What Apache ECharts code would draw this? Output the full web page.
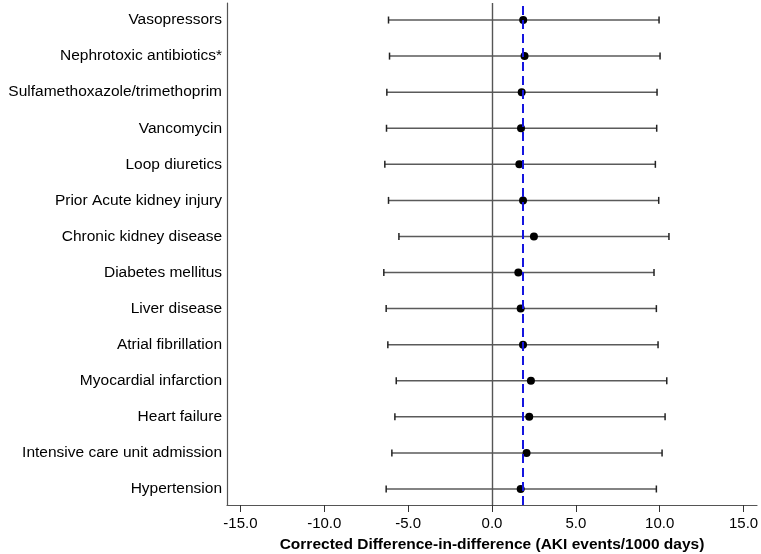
<!DOCTYPE html>
<html>
<head>
<meta charset="utf-8">
<script src="https://cdn.jsdelivr.net/npm/echarts@6/dist/echarts.min.js"></script>
<style>
  html, body { margin: 0; padding: 0; background: #fff; }
  #chart { width: 761px; height: 554px; }
</style>
</head>
<body>
<div id="chart"></div>
<script>
// rows listed top to bottom
const categories = [
  "Vasopressors",
  "Nephrotoxic antibiotics*",
  "Sulfamethoxazole/trimethoprim",
  "Vancomycin",
  "Loop diuretics",
  "Prior Acute kidney injury",
  "Chronic kidney disease",
  "Diabetes mellitus",
  "Liver disease",
  "Atrial fibrillation",
  "Myocardial infarction",
  "Heart failure",
  "Intensive care unit admission",
  "Hypertension"
];
const estimates = [1.86, 1.94, 1.77, 1.73, 1.63, 1.85, 2.50, 1.57, 1.71, 1.85, 2.32, 2.22, 2.06, 1.71];
const lowerCI = [-6.17, -6.11, -6.27, -6.29, -6.39, -6.17, -5.55, -6.45, -6.31, -6.21, -5.71, -5.79, -5.97, -6.31];
const upperCI = [9.96, 10.02, 9.84, 9.82, 9.74, 9.94, 10.55, 9.66, 9.80, 9.90, 10.42, 10.32, 10.14, 9.80];
const xTicks = [-15, -10, -5, 0, 5, 10, 15];
const overallEstimate = 1.86;

const n = categories.length;
const rowPos = categories.map((c, i) => n - i); // top row gets highest y
const yTicks = rowPos.slice();

const barData = categories.map((c, i) => [lowerCI[i], upperCI[i], rowPos[i]]);
const pointData = categories.map((c, i) => [estimates[i], rowPos[i]]);

const chart = echarts.init(document.getElementById("chart"));
const font = "'Liberation Sans', Arial, Helvetica, sans-serif";

const option = {
  animation: false,
  grid: { left: 227, right: 4, top: 3, bottom: 49, outerBoundsMode: "none", containLabel: false },
  xAxis: {
    type: "value",
    min: -15.8,
    max: 15.8,
    name: "Corrected Difference-in-difference (AKI events/1000 days)",
    nameLocation: "middle",
    nameGap: 32,
    nameTextStyle: { fontFamily: font, fontSize: 15.5, fontWeight: "bold", color: "#000" },
    splitLine: { show: false },
    axisLine: { onZero: false, lineStyle: { color: "#555", width: 1.2 } },
    axisTick: { customValues: xTicks, length: 7, lineStyle: { color: "#333", width: 1 } },
    axisLabel: {
      customValues: xTicks,
      formatter: v => v.toFixed(1),
      fontFamily: font,
      fontSize: 15,
      color: "#000",
      margin: 11
    }
  },
  yAxis: {
    type: "value",
    min: 0.556,
    max: 14.472,
    splitLine: { show: false },
    axisLine: { show: true, onZero: false, lineStyle: { color: "#555", width: 1.2 } },
    axisTick: { show: false },
    axisLabel: {
      customValues: yTicks,
      formatter: v => categories[n - Math.round(v)],
      fontFamily: font,
      fontSize: 15.5,
      color: "#000",
      margin: 5,
      padding: [3, 0, 0, 0]
    }
  },
  series: [
    {
      // zero reference line
      type: "line",
      data: [],
      z: 1,
      markLine: {
        silent: true,
        symbol: "none",
        label: { show: false },
        lineStyle: { color: "#555", width: 1.4, type: "solid" },
        data: [{ xAxis: 0 }]
      }
    },
    {
      type: "custom",
      z: 2,
      data: barData,
      encode: { x: [0, 1], y: 2 },
      renderItem: (params, api) => {
        const lo = api.coord([api.value(0), api.value(2)]);
        const hi = api.coord([api.value(1), api.value(2)]);
        const h = 3.5;
        return {
          type: "group",
          children: [
            { type: "line", shape: { x1: lo[0], y1: lo[1], x2: hi[0], y2: hi[1] }, style: { stroke: "#5a5a5a", lineWidth: 1.5 } },
            { type: "line", shape: { x1: lo[0], y1: lo[1] - h, x2: lo[0], y2: lo[1] + h }, style: { stroke: "#222", lineWidth: 1.5 } },
            { type: "line", shape: { x1: hi[0], y1: hi[1] - h, x2: hi[0], y2: hi[1] + h }, style: { stroke: "#222", lineWidth: 1.5 } }
          ]
        };
      }
    },
    {
      // pooled estimate line
      type: "line",
      data: [],
      z: 3,
      markLine: {
        silent: true,
        symbol: "none",
        label: { show: false },
        lineStyle: { color: "#1515e0", width: 2, type: [9, 5] },
        data: [{ xAxis: overallEstimate }]
      }
    },
    {
      type: "scatter",
      z: 4,
      data: pointData,
      symbol: "circle",
      symbolSize: 8,
      itemStyle: { color: "#000", opacity: 1 }
    }
  ]
};

chart.setOption(option);
</script>
</body>
</html>
